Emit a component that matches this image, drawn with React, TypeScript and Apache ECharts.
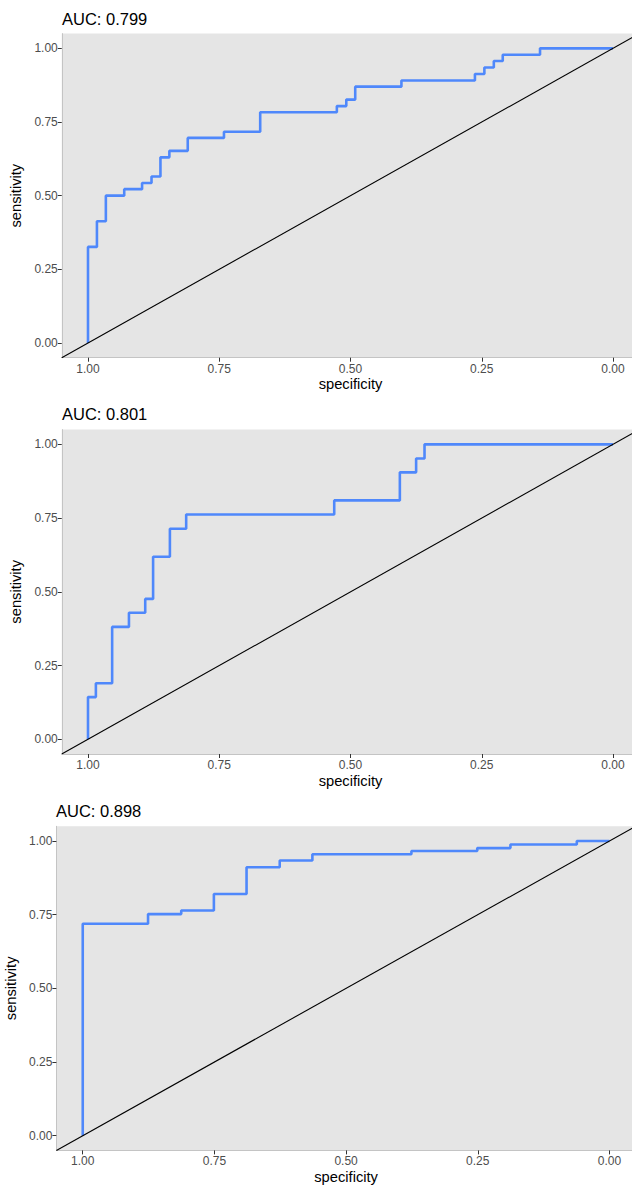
import React, { useEffect, useRef } from "react";
import * as echarts from "echarts";

// ---- data ----
const TICKS = [0, 0.25, 0.5, 0.75, 1];
const TITLES = ["AUC: 0.799", "AUC: 0.801", "AUC: 0.898"];
const X_NAME = "specificity";
const Y_NAME = "sensitivity";

// ROC curve 1 (step corners: specificity, sensitivity)
const SPEC_1 = [1, 1, 0.983, 0.966, 0.931, 0.897, 0.879, 0.862, 0.845, 0.81, 0.741, 0.672, 0.526, 0.508, 0.491, 0.403, 0.263, 0.245, 0.227, 0.21, 0.139, 0];
const SENS_1 = [0, 0.326, 0.413, 0.5, 0.522, 0.543, 0.565, 0.63, 0.652, 0.696, 0.717, 0.783, 0.804, 0.826, 0.87, 0.891, 0.913, 0.935, 0.957, 0.978, 1, 1];

// ROC curve 2
const SPEC_2 = [1, 1, 0.985, 0.954, 0.922, 0.891, 0.876, 0.844, 0.813, 0.531, 0.406, 0.375, 0.359, 0];
const SENS_2 = [0, 0.143, 0.19, 0.381, 0.429, 0.476, 0.619, 0.714, 0.762, 0.81, 0.905, 0.952, 1, 1];

// ROC curve 3
const SPEC_3 = [1, 1, 0.876, 0.813, 0.751, 0.689, 0.626, 0.564, 0.376, 0.251, 0.188, 0.062, 0];
const SENS_3 = [0, 0.719, 0.752, 0.764, 0.82, 0.911, 0.934, 0.955, 0.966, 0.976, 0.988, 1, 1];

// chance diagonal, spanning the panel range
const DIAG_SPEC = [1.05, -0.05];
const DIAG_SENS = [-0.05, 1.05];

const CURVES = [
  [SPEC_1, SENS_1],
  [SPEC_2, SENS_2],
  [SPEC_3, SENS_3],
];

// ---- layout ----
const PANELS = [
  { left: 61.75, top: 33.6, width: 577.5, height: 324.1, titleX: 62, titleTop: 9.5, yGap: 30, xGap: 19 },
  { left: 61.75, top: 429.6, width: 577.5, height: 324.4, titleX: 62, titleTop: 404.5, yGap: 30, xGap: 19 },
  { left: 56.4, top: 826.3, width: 579.4, height: 324.1, titleX: 56, titleTop: 801.2, yGap: 31, xGap: 19 },
];

const FONT = "'Liberation Sans', Arial, Helvetica, sans-serif";
const BLUE = "#4F88FB";

const zip = (a: number[], b: number[]) => a.map((v, i) => [v, b[i]]);
const fmt = (v: number) => v.toFixed(2);

export default function App() {
  const ref = useRef<HTMLDivElement>(null);

  useEffect(() => {
    if (!ref.current) return;
    const chart = echarts.init(ref.current, undefined, { renderer: "svg" });

    const grid = PANELS.map((p) => ({
      left: p.left,
      top: p.top,
      width: p.width,
      height: p.height,
      show: true,
      backgroundColor: "#E5E5E5",
      borderWidth: 0,
      containLabel: false,
      outerBoundsMode: "none",
    }));

    const xAxis = PANELS.map((p, i) => ({
      gridIndex: i,
      type: "value",
      min: -0.05,
      max: 1.05,
      inverse: true,
      axisLine: { show: true, onZero: false, lineStyle: { color: "#C4C4C4", width: 1 } },
      axisTick: { show: true, customValues: TICKS, length: 4, lineStyle: { color: "#333333", width: 1 } },
      axisLabel: { show: true, customValues: TICKS, formatter: fmt, color: "#4D4D4D", fontSize: 12, margin: 5, fontFamily: FONT },
      splitLine: { show: false },
      name: X_NAME,
      nameLocation: "middle",
      nameGap: p.xGap,
      nameTextStyle: { fontSize: 14.7, color: "#000000", fontFamily: FONT },
    }));

    const yAxis = PANELS.map((p, i) => ({
      gridIndex: i,
      type: "value",
      min: -0.05,
      max: 1.05,
      axisLine: { show: true, onZero: false, lineStyle: { color: "#C4C4C4", width: 1 } },
      axisTick: { show: true, customValues: TICKS, length: 4, lineStyle: { color: "#333333", width: 1 } },
      axisLabel: { show: true, customValues: TICKS, formatter: fmt, color: "#4D4D4D", fontSize: 12, margin: 4, fontFamily: FONT },
      splitLine: { show: false },
      name: Y_NAME,
      nameLocation: "middle",
      nameGap: p.yGap,
      nameTextStyle: { fontSize: 14.7, color: "#000000", fontFamily: FONT },
    }));

    const series: any[] = [];
    CURVES.forEach(([spec, sens], i) => {
      series.push({
        type: "line",
        xAxisIndex: i,
        yAxisIndex: i,
        data: zip(spec, sens),
        step: "end",
        showSymbol: false,
        symbol: "none",
        lineStyle: { color: BLUE, width: 2.6 },
        z: 2,
        silent: true,
      });
      series.push({
        type: "line",
        xAxisIndex: i,
        yAxisIndex: i,
        data: zip(DIAG_SPEC, DIAG_SENS),
        showSymbol: false,
        symbol: "none",
        lineStyle: { color: "#000000", width: 1.1 },
        z: 3,
        silent: true,
      });
    });

    const title = PANELS.map((p, i) => ({
      text: TITLES[i],
      left: p.titleX,
      top: p.titleTop,
      padding: 0,
      textStyle: { fontSize: 16.5, fontWeight: "normal", color: "#000000", fontFamily: FONT, lineHeight: 19 },
    }));

    chart.setOption({
      animation: false,
      backgroundColor: "#FFFFFF",
      title,
      grid,
      xAxis,
      yAxis,
      series,
    });

    return () => chart.dispose();
  }, []);

  return (
    <div style={{ position: "absolute", left: 0, top: 0, width: 632, height: 1189, overflow: "hidden", background: "#fff" }}>
      <div ref={ref} style={{ width: 650, height: 1189 }} />
    </div>
  );
}
